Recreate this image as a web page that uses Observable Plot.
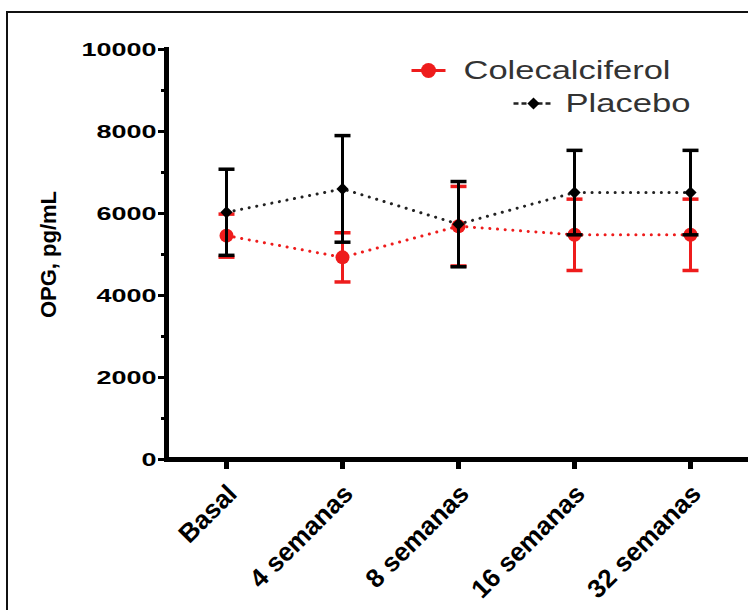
<!DOCTYPE html>
<html>
<head>
<meta charset="utf-8">
<script src="https://cdn.jsdelivr.net/npm/d3@7"></script>
<script src="https://cdn.jsdelivr.net/npm/@observablehq/plot@0.6"></script>
<style>
  html, body { margin: 0; padding: 0; background: #fff; }
  #wrap { position: relative; width: 748px; height: 610px; overflow: hidden; }
  #border { position: absolute; left: 6px; top: 11px; width: 800px; height: 700px; border: 2px solid #111; box-sizing: border-box; pointer-events: none; }
  #chart { position: absolute; left: 0; top: 0; }
</style>
</head>
<body>
<div id="wrap"><div id="chart"></div><div id="border"></div></div>
<script>
// ---- data ----
const categories = ["Basal", "4 semanas", "8 semanas", "16 semanas", "32 semanas"];
const colecalciferolMean = [5460, 4930, 5690, 5480, 5480];
const colecalciferolErr  = [525, 600, 970, 870, 870];
const placeboMean = [6030, 6600, 5740, 6510, 6510];
const placeboErr  = [1050, 1300, 1040, 1030, 1030];
const yTicks = [0, 2000, 4000, 6000, 8000, 10000];
const yMinorTicks = [1000, 3000, 5000, 7000, 9000];
const seriesNames = ["Colecalciferol", "Placebo"];
const yLabel = "OPG, pg/mL";

const RED = "#ee1c1c";
const BLACK = "#000";
const FONT = "'Liberation Sans', Arial, Helvetica, sans-serif";

const red = categories.map((c, i) => ({cat: c, mean: colecalciferolMean[i], lo: colecalciferolMean[i] - colecalciferolErr[i], hi: colecalciferolMean[i] + colecalciferolErr[i]}));
const blk = categories.map((c, i) => ({cat: c, mean: placeboMean[i], lo: placeboMean[i] - placeboErr[i], hi: placeboMean[i] + placeboErr[i]}));
const caps = rows => rows.flatMap(d => [{cat: d.cat, v: d.lo}, {cat: d.cat, v: d.hi}]);

// horizontal line symbol (for error-bar caps and legend)
const hline = {
  draw(ctx, size) {
    const w = Math.sqrt(size / Math.PI);
    ctx.moveTo(-w, 0);
    ctx.lineTo(w, 0);
  }
};

const dotted = {strokeDasharray: "0.1 7.6", strokeLinecap: "round", strokeWidth: 3};

const chart = Plot.plot({
  width: 748,
  height: 610,
  marginLeft: 166,
  marginRight: 0,
  marginTop: 49,
  marginBottom: 151,
  style: {fontFamily: FONT, background: "transparent", color: "#000", overflow: "visible"},
  x: {type: "point", domain: categories, range: [226, 690], padding: 0},
  y: {domain: [0, 10000]},
  marks: [
    // colecalciferol
    Plot.line(red, {x: "cat", y: "mean", stroke: RED, ...dotted}),
    Plot.ruleX(red, {x: "cat", y1: "lo", y2: "hi", stroke: RED, strokeWidth: 3}),
    Plot.dot(caps(red), {x: "cat", y: "v", symbol: hline, r: 8, stroke: RED, fill: "none", strokeWidth: 3.5}),
    Plot.dot(red, {x: "cat", y: "mean", r: 7, fill: RED, stroke: "none"}),
    // placebo
    Plot.line(blk, {x: "cat", y: "mean", stroke: "#222", ...dotted}),
    Plot.ruleX(blk, {x: "cat", y1: "lo", y2: "hi", stroke: BLACK, strokeWidth: 3}),
    Plot.dot(caps(blk), {x: "cat", y: "v", symbol: hline, r: 8, stroke: BLACK, fill: "none", strokeWidth: 3.5}),
    Plot.dot(blk, {x: "cat", y: "mean", r: 5.5, symbol: "diamond2", fill: BLACK, stroke: "none"}),
    // axes
    Plot.axisY({ticks: yTicks, tickSize: 8, tickPadding: 2, tickFormat: d3.format("d"), fontSize: 19, fontWeight: "bold", strokeWidth: 3, label: null}),
    Plot.axisY({ticks: yMinorTicks, tickSize: 5, strokeWidth: 3, tickFormat: () => "", label: null}),
    Plot.axisX({tickSize: 10, strokeWidth: 5, tickFormat: () => "", label: null}),
    Plot.axisX({tickSize: 0, tickPadding: 30, tickRotate: -45, fontSize: 26, fontWeight: "bold", label: null, dx: 6}),
    Plot.ruleY([0], {strokeWidth: 5, stroke: BLACK}),
    Plot.frame({anchor: "left", strokeWidth: 5, stroke: BLACK}),
    Plot.text([yLabel], {frameAnchor: "left", dx: -118, rotate: -90, textAnchor: "middle", fontSize: 22, fontWeight: "bold", fill: BLACK}),
    // legend
    Plot.dot([seriesNames[0]], {frameAnchor: "top-left", dx: 262, dy: 21, symbol: hline, r: 17, stroke: RED, strokeWidth: 3, fill: "none"}),
    Plot.dot([seriesNames[0]], {frameAnchor: "top-left", dx: 262, dy: 21, r: 7.5, fill: RED, stroke: "none"}),
    Plot.text([seriesNames[0]], {frameAnchor: "top-left", dx: 297, dy: 21, text: d => d, textAnchor: "start", lineAnchor: "middle", fontSize: 25, fill: "#333", className: "legtxt"}),
    Plot.dot([seriesNames[1]], {frameAnchor: "top-left", dx: 367, dy: 54, symbol: hline, r: 20, stroke: "#222", strokeWidth: 2.5, strokeDasharray: "5 3", fill: "none"}),
    Plot.dot([seriesNames[1]], {frameAnchor: "top-left", dx: 367, dy: 54, r: 5.5, symbol: "diamond2", fill: BLACK, stroke: "none"}),
    Plot.text([seriesNames[1]], {frameAnchor: "top-left", dx: 399, dy: 54, text: d => d, textAnchor: "start", lineAnchor: "middle", fontSize: 25, fill: "#333", className: "legtxt"})
  ]
});
document.getElementById("chart").appendChild(chart);

// the reference's y tick labels and legend text are drawn horizontally widened
const svg = d3.select(chart);
svg.selectAll('g[aria-label="y-axis tick label"] text').each(function() {
  const t = this.textContent;
  if (t) d3.select(this).attr("textLength", t.length * 15).attr("lengthAdjust", "spacingAndGlyphs");
});
const legendWidths = {"Colecalciferol": 207, "Placebo": 125};
svg.selectAll(".legtxt text").each(function() {
  const w = legendWidths[this.textContent];
  if (w) d3.select(this).attr("textLength", w).attr("lengthAdjust", "spacingAndGlyphs");
});
</script>
</body>
</html>
